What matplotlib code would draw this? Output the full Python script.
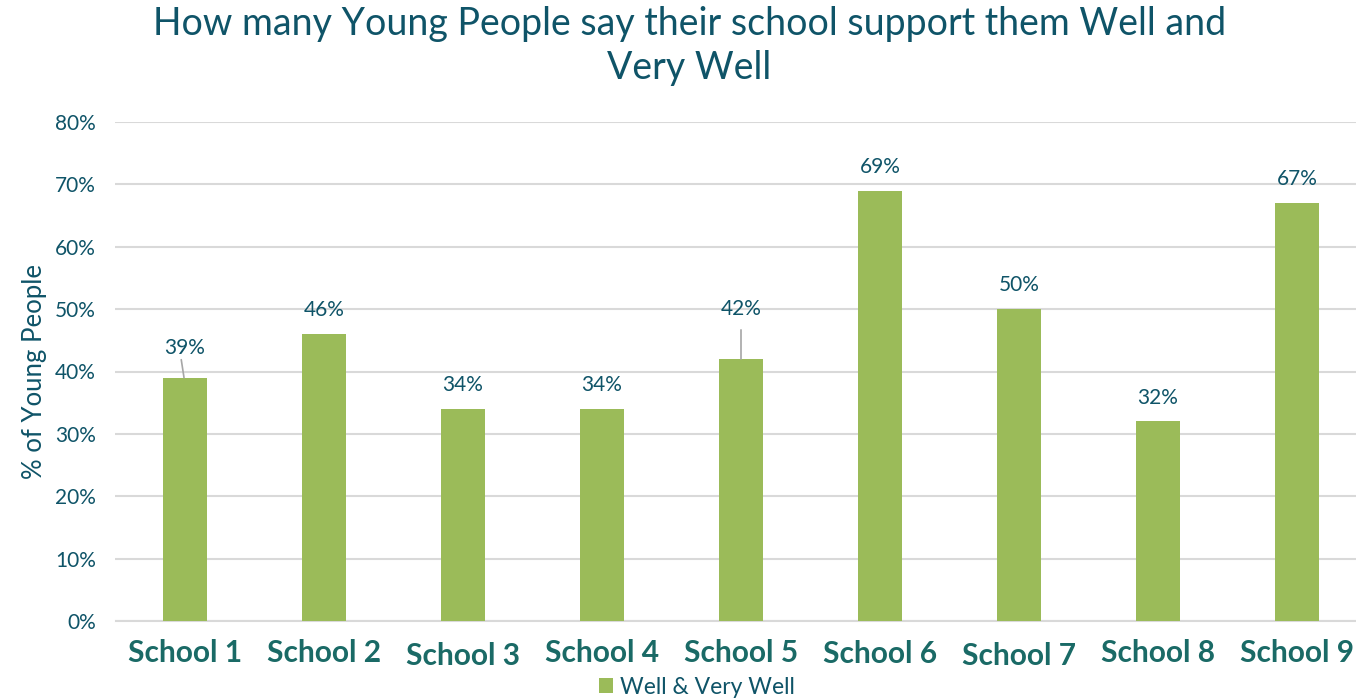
import matplotlib
matplotlib.use("Agg")
import matplotlib.pyplot as plt
from matplotlib.ticker import FuncFormatter, MultipleLocator
import matplotlib.transforms as mtransforms

# Data
schools = ["School 1", "School 2", "School 3", "School 4", "School 5",
           "School 6", "School 7", "School 8", "School 9"]
well_very_well = [39, 46, 34, 34, 42, 69, 50, 32, 67]
series_name = "Well & Very Well"

# extra lift (points) for labels that sit away from their bar, with leader length (points)
label_lift = [4, 0, 0, 0, 19, 0, 0, 0, 0]
leader_len = [13, 0, 0, 0, 21, 0, 0, 0, 0]
# small vertical nudge (points) of category labels
tick_nudge = [0, 0, -2, 0, 0, -1, -2, 0, 0]

BAR = "#9BBB59"
TEAL = "#0F5468"
TICK_TEAL = "#1A6A66"
GRID = "#D9D9D9"
LEADER = "#A6A6A6"

plt.rcParams["font.family"] = ["Lato", "DejaVu Sans"]

W, H = 1356, 700
fig = plt.figure(figsize=(W / 100, H / 100), dpi=100)
left, right, top, bottom = 115.5, 1366.5, 122, 621
ax = fig.add_axes([left / W, 1 - bottom / H, (right - left) / W, (bottom - top) / H])

x = list(range(len(schools)))
ax.bar(x, well_very_well, width=0.32, color=BAR, zorder=3, label=series_name)

ax.set_xlim(-0.5, len(schools) - 0.5)
ax.set_ylim(0, 80)
ax.yaxis.set_major_locator(MultipleLocator(10))
ax.yaxis.set_major_formatter(FuncFormatter(lambda v, p: f"{v:.0f}%"))
ax.grid(axis="y", color=GRID, linewidth=1.5, zorder=0)
for s in ["top", "right", "left"]:
    ax.spines[s].set_visible(False)
ax.spines["bottom"].set_color(GRID)
ax.spines["bottom"].set_linewidth(1.5)
ax.tick_params(axis="both", length=0)
ax.tick_params(axis="y", labelsize=15, labelcolor=TEAL, pad=14)
ax.set_xticks(x)
ax.set_xticklabels(schools, fontsize=21.5, fontweight="bold", color=TICK_TEAL)
ax.tick_params(axis="x", pad=13)
for lbl, dy in zip(ax.get_xticklabels(), tick_nudge):
    lbl.set_transform(lbl.get_transform() +
                      mtransforms.ScaledTranslation(0, dy / 72, fig.dpi_scale_trans))

ax.set_ylabel("% of Young People", fontsize=18.5, color=TEAL, labelpad=6)

# value labels, some with a thin leader line back to the bar
for xi, v, lift, lead in zip(x, well_very_well, label_lift, leader_len):
    ax.annotate(f"{v}%", xy=(xi, v), xytext=(0, 10 + lift), textcoords="offset points",
                ha="center", va="bottom", fontsize=15, color=TEAL, zorder=4)
    if lead:
        slant = -2 if lift < 10 else 0
        ax.annotate("", xy=(xi - (0.007 if slant else 0), v), xytext=(slant, lead),
                    textcoords="offset points",
                    arrowprops=dict(arrowstyle="-", color=LEADER, lw=1.2,
                                    shrinkA=0, shrinkB=0), zorder=4)

fig.text(689.5 / W, 1 - 46 / H,
         "How many Young People say their school support them Well and\nVery Well",
         fontsize=27, color=TEAL, ha="center", va="center", linespacing=1.3)

fig.legend(loc="center", bbox_to_anchor=(697 / W, 1 - 687 / H), bbox_transform=fig.transFigure,
           frameon=False, fontsize=16.5, labelcolor=TEAL, handlelength=0.6, handleheight=0.6,
           handletextpad=0.3, borderaxespad=0, borderpad=0)

fig.savefig("out.png", dpi=100)
